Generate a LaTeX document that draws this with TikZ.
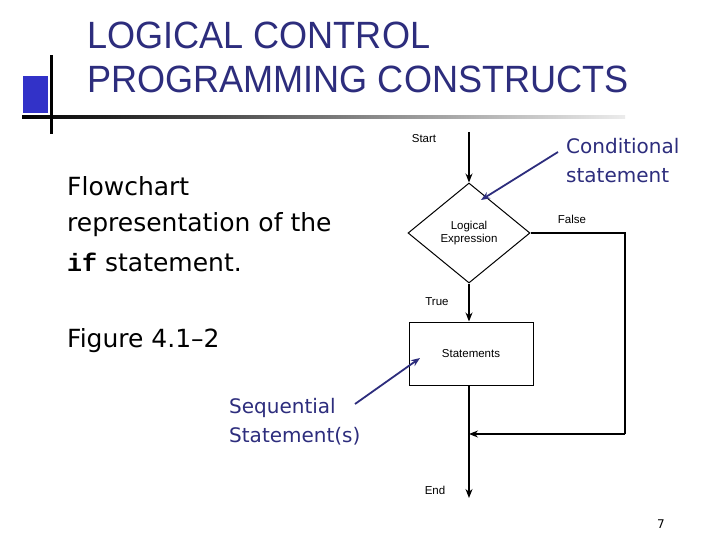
\documentclass[tikz,border=0pt]{standalone}
\usepackage{fontspec}
\setmainfont{DejaVu Sans}
\newfontfamily\chartfont{Liberation Sans}
\newfontfamily\titlefont{Liberation Sans}
\setmonofont{Liberation Mono}
\usetikzlibrary{shapes.geometric,arrows.meta}
\begin{document}
\begin{tikzpicture}[x=1pt,y=-1pt,
  chart/.style={font=\chartfont\fontsize{11.5}{12.5}\selectfont, align=center,inner sep=0pt},
  flow/.style={line width=1.3pt,-{Stealth[length=9pt,width=7pt]}},
  callout/.style={draw=navy,line width=1.8pt,-{Stealth[length=9pt,width=7pt]}},
  body/.style={anchor=west,font=\fontsize{25}{28}\selectfont,inner sep=0pt},
  bluetext/.style={text=navy,anchor=west,align=left,inner sep=0pt,font=\fontsize{20}{29}\selectfont},
  ttl/.style={anchor=west,text=navy,font=\titlefont\fontsize{38}{40}\selectfont,inner sep=0pt,xscale=0.95,transform shape}]
\definecolor{navy}{RGB}{45,45,125}
\definecolor{sq}{RGB}{50,50,200}
\useasboundingbox (0,0) rectangle (720,540);
\fill[white] (0,0) rectangle (720,540);
% decoration
\fill[sq] (23,76) rectangle (48,113);
\shade[left color=black,right color=gray!15] (22,115.5) rectangle (625,118.5);
\fill[black] (50,55) rectangle (53,134);
\node[ttl] (title) at (87,35) {LOGICAL CONTROL};
\node[ttl] (title2) at (87,79) {PROGRAMMING CONSTRUCTS};
% left text
\node[body] (t1) at (67,186) {Flowchart};
\node[body] (t2) at (67,225) {representation of the};
\node[body] (t3) at (67,262) {\texttt{\bfseries if} statement.};
\node[body] (t4) at (67,341) {Figure 4.1--2};
% flowchart
\coordinate (top) at (469,132);
\node[draw,line width=1pt,diamond,minimum width=122pt,minimum height=100pt,inner sep=0pt,chart] (dec) at (469,233) {Logical\\Expression};
\node[draw,line width=1pt,minimum width=124pt,minimum height=63pt,chart] (st) at (471,353.5) {Statements};
\coordinate (join) at (469,434);
\coordinate (fr) at (625,233);
\coordinate (fb) at (625,434);
\coordinate (endp) at (469,498);
\draw[flow] (top) -- (dec.north);
\draw[flow] (dec.south) -- (dec.south |- st.north);
\draw[line width=1.3pt] (dec.east) -- (fr) -- (fb);
\draw[flow] (fb) -- (join);
\draw[flow] (st.south -| join) -- (endp);
\node[chart] (start) at (424,139) {Start};
\node[chart] (false) at (572,219) {False};
\node[chart] (true) at (437,302) {True};
\node[chart] (end) at (435,490) {End};
% callouts
\node[bluetext] (cond) at (566,161) {Conditional\\statement};
\node[bluetext] (seq) at (229,422) {Sequential\\Statement(s)};
\coordinate (c0) at (558,152);
\coordinate (c1) at (481,200);
\coordinate (s0) at (355,404);
\coordinate (c2) at (420,358);
\draw[callout] (c0) -- (c1);
\draw[callout] (s0) -- (c2);
\node[font=\fontsize{12}{14}\selectfont] (pg) at (661,524) {7};
\end{tikzpicture}
\end{document}
